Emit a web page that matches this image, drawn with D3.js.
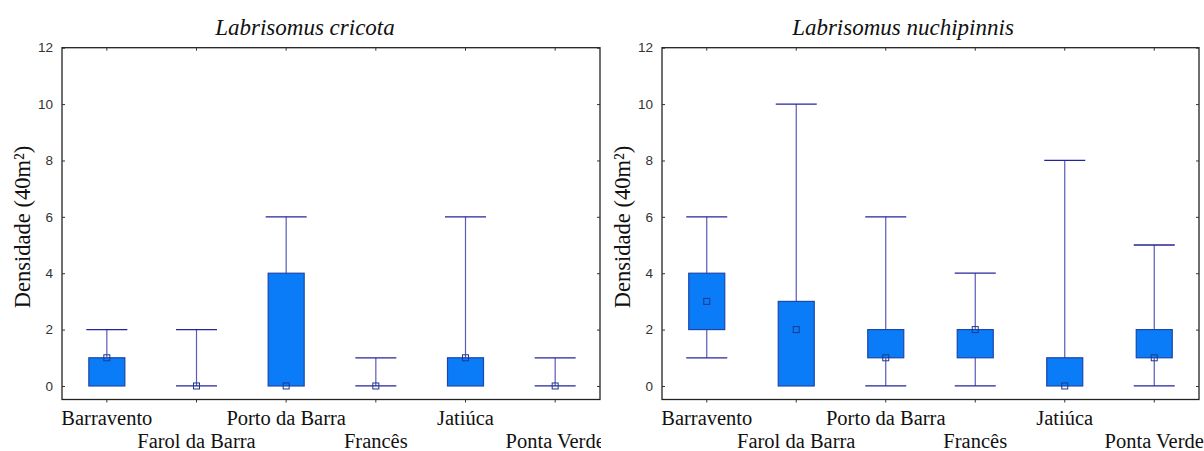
<!DOCTYPE html>
<html>
<head>
<meta charset="utf-8">
<script src="https://cdn.jsdelivr.net/npm/d3@7"></script>
<style>
  body { margin: 0; background: #fff; }
  svg { display: block; }
</style>
</head>
<body>
<div id="root"></div>
<script>
// sites on the x axis
const sites = ["Barravento", "Farol da Barra", "Porto da Barra", "Francês", "Jatiúca", "Ponta Verde"];
const yTicks = [0, 2, 4, 6, 8, 10, 12];

// Labrisomus cricota
const cricotaMin = [0, 0, 0, 0, 0, 0];
const cricotaQ1 = [0, 0, 0, 0, 0, 0];
const cricotaMedian = [1, 0, 0, 0, 1, 0];
const cricotaQ3 = [1, 0, 4, 0, 1, 0];
const cricotaMax = [2, 2, 6, 1, 6, 1];

// Labrisomus nuchipinnis
const nuchiMin = [1, 0, 0, 0, 0, 0];
const nuchiQ1 = [2, 0, 1, 1, 0, 1];
const nuchiMedian = [3, 2, 1, 2, 0, 1];
const nuchiQ3 = [4, 3, 2, 2, 1, 2];
const nuchiMax = [6, 10, 6, 4, 8, 5];

const width = 1204;
const height = 451;

const svg = d3
  .select("#root")
  .append("svg")
  .attr("width", width)
  .attr("height", height)
  .attr("viewBox", [0, 0, width, height]);

function buildRows(mins, q1s, meds, q3s, maxs) {
  return sites.map((s, i) => ({
    site: s,
    min: mins[i],
    q1: q1s[i],
    median: meds[i],
    q3: q3s[i],
    max: maxs[i]
  }));
}

function drawPanel(panel) {
  const { left, right, clipRight, center, title, rows, id } = panel;
  const top = 47.7;
  const bottom = 399.5;

  const g = svg.append("g").attr("id", id);

  g.append("clipPath")
    .attr("id", id + "-clip")
    .append("rect")
    .attr("x", left - 70)
    .attr("y", 0)
    .attr("width", clipRight - left + 70)
    .attr("height", height);

  const x = d3.scaleBand().domain(sites).range([left, right]).padding(0);
  const y = d3.scaleLinear().domain([-0.48, 12]).range([bottom, top]);

  const boxW = 36;
  const capW = 41;

  // title
  g.append("text")
    .attr("x", center)
    .attr("y", 35)
    .attr("text-anchor", "middle")
    .attr("font-family", "Liberation Serif, Times New Roman, serif")
    .attr("font-style", "italic")
    .attr("font-size", 23)
    .attr("fill", "#111")
    .text(title);

  // y label
  g.append("text")
    .attr("transform", `translate(${left - 32}, 227) rotate(-90)`)
    .attr("text-anchor", "middle")
    .attr("font-family", "Liberation Serif, Times New Roman, serif")
    .attr("font-size", 22.5)
    .attr("fill", "#111")
    .text("Densidade (40m²)");

  // boxes
  const item = g
    .selectAll("g.item")
    .data(rows)
    .join("g")
    .attr("class", "item")
    .attr("transform", (d) => `translate(${x(d.site) + x.bandwidth() / 2},0)`);

  item
    .append("line")
    .attr("y1", (d) => y(d.max))
    .attr("y2", (d) => y(d.min))
    .attr("stroke", "#5a5ab8")
    .attr("stroke-width", 1.2);

  item
    .append("line")
    .attr("x1", -capW / 2)
    .attr("x2", capW / 2)
    .attr("y1", (d) => y(d.max))
    .attr("y2", (d) => y(d.max))
    .attr("stroke", "#24249c")
    .attr("stroke-width", 1.3);

  item
    .filter((d) => d.min < d.q1 || d.q3 === d.q1)
    .append("line")
    .attr("x1", -capW / 2)
    .attr("x2", capW / 2)
    .attr("y1", (d) => y(d.min))
    .attr("y2", (d) => y(d.min))
    .attr("stroke", "#24249c")
    .attr("stroke-width", 1.3);

  item
    .filter((d) => d.q3 > d.q1)
    .append("rect")
    .attr("x", -boxW / 2)
    .attr("width", boxW)
    .attr("y", (d) => y(d.q3))
    .attr("height", (d) => y(d.q1) - y(d.q3))
    .attr("fill", "#0a7cf8")
    .attr("stroke", "#1c46a8")
    .attr("stroke-width", 1.2);

  item
    .append("rect")
    .attr("x", -3)
    .attr("y", (d) => y(d.median) - 3)
    .attr("width", 6)
    .attr("height", 6)
    .attr("fill", "none")
    .attr("stroke", "#1c3a8c")
    .attr("stroke-width", 1);

  // frame
  g.append("rect")
    .attr("x", left)
    .attr("y", top)
    .attr("width", right - left)
    .attr("height", bottom - top)
    .attr("fill", "none")
    .attr("stroke", "#222")
    .attr("stroke-width", 1.3);

  // y axis, ticks pointing inward
  const yAxis = g
    .append("g")
    .attr("transform", `translate(${left},0)`)
    .call(d3.axisRight(y).tickValues(yTicks).tickSize(3).tickFormat(""));
  yAxis.select(".domain").remove();
  yAxis.selectAll("line").attr("stroke", "#333");

  const yAxisR = g
    .append("g")
    .attr("transform", `translate(${right},0)`)
    .call(d3.axisLeft(y).tickValues(yTicks).tickSize(3).tickFormat(""));
  yAxisR.select(".domain").remove();
  yAxisR.selectAll("line").attr("stroke", "#333");

  g.selectAll("text.ytick")
    .data(yTicks)
    .join("text")
    .attr("class", "ytick")
    .attr("x", left - 9)
    .attr("y", (d) => y(d))
    .attr("dy", "0.35em")
    .attr("text-anchor", "end")
    .attr("font-family", "Liberation Sans, Arial, sans-serif")
    .attr("font-size", 13.5)
    .attr("fill", "#333")
    .text((d) => d);

  // x axis: ticks below bottom, inside at top
  const xAxis = g
    .append("g")
    .attr("transform", `translate(0,${bottom})`)
    .call(d3.axisBottom(x).tickSize(3).tickFormat(""));
  xAxis.select(".domain").remove();
  xAxis.selectAll("line").attr("stroke", "#333");

  const xAxisT = g
    .append("g")
    .attr("transform", `translate(0,${top})`)
    .call(d3.axisBottom(x).tickSize(3).tickFormat(""));
  xAxisT.select(".domain").remove();
  xAxisT.selectAll("line").attr("stroke", "#333");

  g.append("g")
    .attr("clip-path", `url(#${id}-clip)`)
    .selectAll("text")
    .data(sites)
    .join("text")
    .attr("x", (d) => x(d) + x.bandwidth() / 2)
    .attr("y", (d, i) => (i % 2 === 0 ? 425 : 448))
    .attr("text-anchor", "middle")
    .attr("font-family", "Liberation Serif, Times New Roman, serif")
    .attr("font-size", 20.5)
    .attr("fill", "#111")
    .text((d) => d);
}

drawPanel({
  id: "cricota",
  left: 62,
  right: 600,
  clipRight: 601,
  center: 305,
  title: "Labrisomus cricota",
  rows: buildRows(cricotaMin, cricotaQ1, cricotaMedian, cricotaQ3, cricotaMax)
});

drawPanel({
  id: "nuchipinnis",
  left: 662,
  right: 1199,
  clipRight: 1204,
  center: 903,
  title: "Labrisomus nuchipinnis",
  rows: buildRows(nuchiMin, nuchiQ1, nuchiMedian, nuchiQ3, nuchiMax)
});
</script>
</body>
</html>
